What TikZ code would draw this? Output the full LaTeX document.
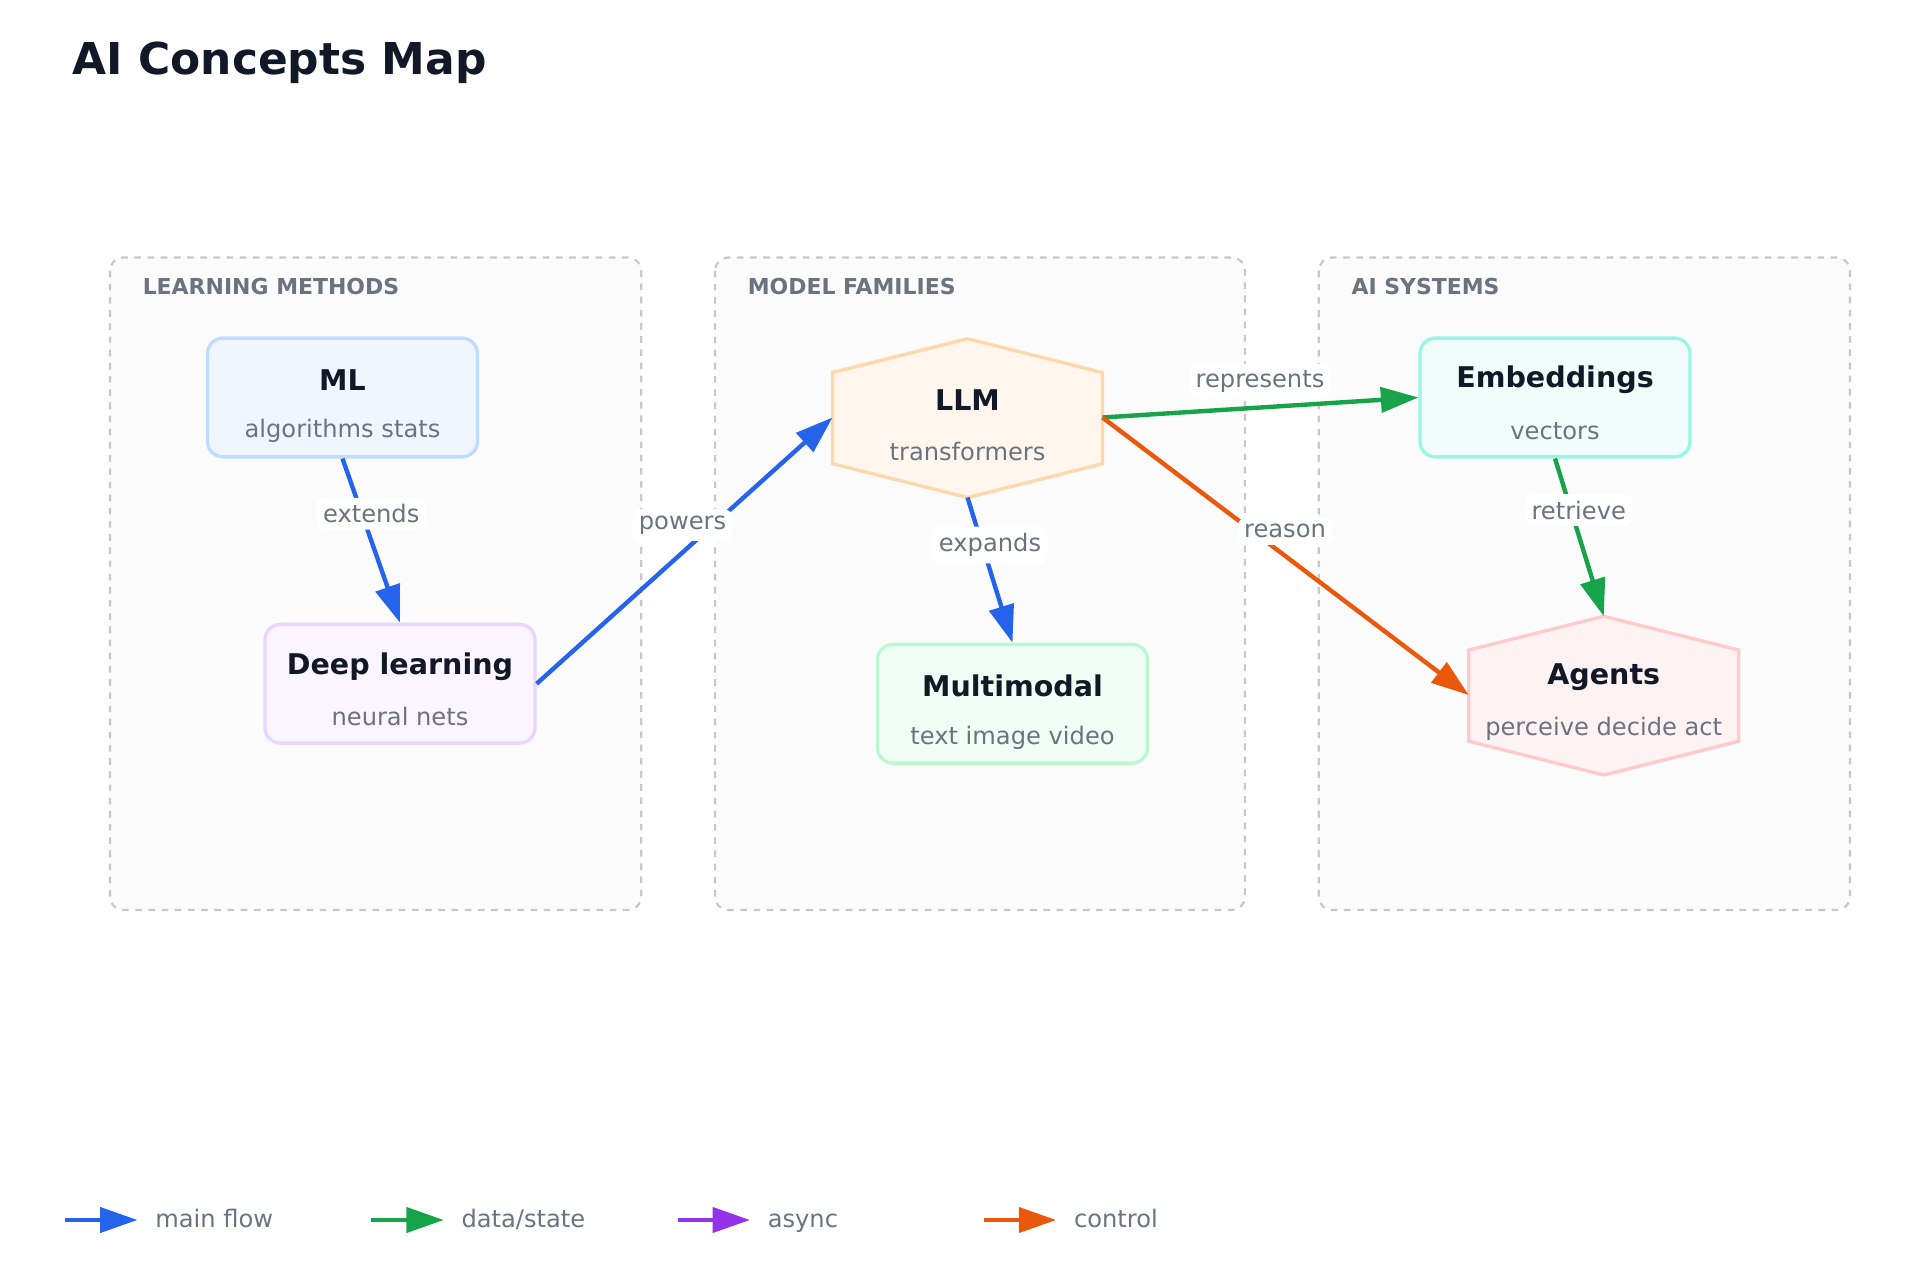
\documentclass[tikz,border=0pt]{standalone}
\usepackage{fontspec}
\setmainfont{DejaVu Sans}
\usetikzlibrary{arrows.meta}
\definecolor{cblue}{HTML}{2563EB}
\definecolor{cgreen}{HTML}{16A34A}
\definecolor{cpurple}{HTML}{9333EA}
\definecolor{corange}{HTML}{EA580C}
\definecolor{tdark}{HTML}{111827}
\definecolor{tgray}{HTML}{6B7280}
\definecolor{mlS}{HTML}{BFDBFE}\definecolor{mlF}{HTML}{EFF6FF}
\definecolor{dlS}{HTML}{E9D5FF}\definecolor{dlF}{HTML}{FAF5FF}
\definecolor{mmS}{HTML}{BBF7D0}\definecolor{mmF}{HTML}{F0FDF4}
\definecolor{emS}{HTML}{99F6E4}\definecolor{emF}{HTML}{F0FDFA}
\definecolor{llS}{HTML}{FED7AA}\definecolor{llF}{HTML}{FFF7ED}
\definecolor{agS}{HTML}{FECACA}\definecolor{agF}{HTML}{FEF2F2}
\tikzset{
 x=0.02cm,y=-0.02cm,
 grp/.style={draw=black!22,dashed,line width=1pt,fill=black!1.5,rounded corners=6pt},
 grplab/.style={anchor=west,font=\bfseries\fontsize{10}{12}\selectfont,text=tgray},
 box/.style={draw=#1S,fill=#1F,line width=1.5pt,rounded corners=7pt,minimum width=216*0.02cm,minimum height=95*0.02cm},
 ttl/.style={font=\bfseries\fontsize{13}{15}\selectfont,text=tdark},
 sub/.style={font=\fontsize{11}{13}\selectfont,text=tgray},
 edge/.style={line width=2pt,draw=#1,-{Triangle[length=0.6cm,width=0.4cm,fill=#1]}},
 elab/.style={fill=white,rounded corners=4pt,inner sep=3pt,font=\fontsize{11}{13}\selectfont,text=tgray},
}
\begin{document}
\begin{tikzpicture}
\useasboundingbox (0,0) rectangle (1536,1024);
\node[anchor=west,font=\bfseries\fontsize{20}{24}\selectfont,text=tdark] (title) at (52,50) {AI Concepts Map};
% groups
\draw[grp] (88,206) rectangle (513,728);
\draw[grp] (572,206) rectangle (996,728);
\draw[grp] (1055,206) rectangle (1480,728);
\node[grplab] (g1) at (108,229) {LEARNING METHODS};
\node[grplab] (g2) at (592,229) {MODEL FAMILIES};
\node[grplab] (g3) at (1075,229) {AI SYSTEMS};
% boxes
\node[box=ml] (ml) at (274,318) {};
\node[ttl] at (274,304) {ML}; \node[sub] at (274,345) {algorithms stats};
\node[box=dl] (dl) at (320,547) {};
\node[ttl] at (320,533) {Deep learning}; \node[sub] at (320,573) {neural nets};
\node[box=mm] (mm) at (810,563) {};
\node[ttl] at (810,549) {Multimodal}; \node[sub] at (810,590) {text image video};
\node[box=em] (emb) at (1244,318) {};
\node[ttl] at (1244,304) {Embeddings}; \node[sub] at (1244,345) {vectors};
% hexagons
\draw[line width=1.5pt,draw=llS,fill=llF] (774,271)--(882,298)--(882,371)--(774,398)--(666,371)--(666,298)--cycle;
\coordinate (llmW) at (666,334); \coordinate (llmE) at (882,334); \coordinate (llmS) at (774,398);
\node[ttl] (llm) at (774,320) {LLM}; \node[sub] at (774,361) {transformers};
\draw[line width=1.5pt,draw=agS,fill=agF] (1283,493)--(1391,520)--(1391,593)--(1283,620)--(1175,593)--(1175,520)--cycle;
\coordinate (agW) at (1175,556); \coordinate (agN) at (1283,493);
\node[ttl] (ag) at (1283,542) {Agents}; \node[sub] at (1283,583) {perceive decide act};
% edges
\draw[edge=cblue] (ml.south) -- (dl.north);
\node[elab] (l1) at (297,411) {extends};
\draw[edge=cblue] (dl.east) -- (llmW);
\node[elab] (l2) at (546,420) {powers};
\draw[edge=cblue] (llmS) -- (mm.north);
\node[elab] (l3) at (792,436) {expands};
\draw[edge=cgreen] (llmE) -- (emb.west);
\node[elab] (l4) at (1008,305) {represents};
\draw[edge=corange] (llmE) -- (agW);
\node[elab] (l5) at (1028,425) {reason};
\draw[edge=cgreen] (emb.south) -- (agN);
\node[elab] (l6) at (1263,408) {retrieve};
% legend
\foreach \x/\c/\t [count=\i] in {52/cblue/main flow,297/cgreen/data\slash state,542/cpurple/async,787/corange/control}{
 \coordinate (ls\i) at (\x,976); \coordinate (le\i) at (\x+58,976);
 \draw[edge=\c] (ls\i) -- (le\i);
 \node[anchor=base west,sub] (lt\i) at (\x+66,982) {\t};
}
\end{tikzpicture}
\end{document}
